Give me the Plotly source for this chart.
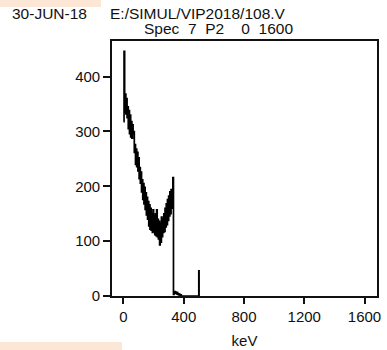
import plotly.graph_objects as go

# Spectrum: 4 keV bins (lower edges, keV) and counts per bin
energy_kev = [
    0, 4, 8, 12, 16, 20, 24, 28, 32, 36, 40, 44, 48, 52, 56, 60, 64, 68, 72, 76,
    80, 84, 88, 92, 96, 100, 104, 108, 112, 116, 120, 124, 128, 132, 136, 140,
    144, 148, 152, 156, 160, 164, 168, 172, 176, 180, 184, 188, 192, 196, 200,
    204, 208, 212, 216, 220, 224, 228, 232, 236, 240, 244, 248, 252, 256, 260,
    264, 268, 272, 276, 280, 284, 288, 292, 296, 300, 304, 308, 312, 316, 320,
    324, 328, 332, 336, 340, 344, 348, 352, 356, 360, 364, 368, 372, 376, 380,
    384, 498, 500, 502,
]
counts = [
    318, 446, 335, 368, 332, 360, 325, 345, 305, 338, 296, 330, 290, 318, 288,
    312, 296, 300, 262, 276, 240, 268, 236, 262, 228, 252, 214, 234, 206, 226,
    190, 212, 176, 205, 168, 198, 158, 188, 148, 180, 140, 172, 128, 166, 122,
    160, 120, 150, 116, 157, 118, 146, 112, 150, 110, 157, 108, 140, 104, 136,
    93, 132, 98, 144, 108, 140, 116, 150, 118, 160, 126, 168, 130, 176, 138,
    182, 146, 190, 150, 194, 160, 190, 216, 3, 6, 8, 5, 7, 4, 6,
    3, 4, 2, 3, 1, 2, 0, 0, 46, 0,
]

x_ticks = [0, 400, 800, 1200, 1600]
y_ticks = [0, 100, 200, 300, 400]

header_date = "30-JUN-18"
header_file = "E:/SIMUL/VIP2018/108.V"
header_spec = "Spec\u00a0\u00a07\u00a0\u00a0P2\u00a0\u00a0\u00a0\u00a00\u00a0\u00a01600"
x_title = "keV"

FONT = "Liberation Sans, Arial, sans-serif"
INK = "#111111"
PEACH = "#fce6d6"

fig = go.Figure()
fig.add_trace(go.Scatter(
    x=energy_kev, y=counts, mode="lines",
    line=dict(color="black", width=1.7, shape="hv"),
    hoverinfo="skip", showlegend=False,
))

axis_common = dict(
    showline=True, linecolor=INK, linewidth=1.6, mirror=True,
    ticks="outside", tickcolor=INK, tickwidth=1.5,
    showgrid=False, zeroline=False, automargin=False,
    tickfont=dict(family=FONT, size=15, color=INK),
)

fig.update_layout(
    width=387, height=350,
    margin=dict(l=112, r=10, t=41, b=54, pad=0),
    paper_bgcolor="white", plot_bgcolor="white",
    font=dict(family=FONT, color=INK),
    xaxis=dict(range=[-76, 1683], tickvals=x_ticks, ticklen=6,
               title=dict(text=x_title, font=dict(family=FONT, size=15, color=INK),
                          standoff=12),
               **axis_common),
    yaxis=dict(range=[0, 465], tickvals=y_ticks, ticklen=7, **axis_common),
)

# Header lines above the plot frame
for text, px, py in [(header_date, 11, 13.5), (header_file, 109, 13.5), (header_spec, 143, 28.5)]:
    fig.add_annotation(
        text=text, xref="paper", yref="paper",
        x=(px - 112) / 265, y=(296 - py) / 255,
        xanchor="left", yanchor="middle", showarrow=False,
        font=dict(family=FONT, size=15.5, color=INK),
        borderpad=0,
    )

# Peach highlight bands at the page corners
for x0, x1, y0, y1 in [(0, 101, 0, 7), (0, 122, 342, 350)]:
    fig.add_shape(
        type="rect", xref="paper", yref="paper",
        x0=(x0 - 112) / 265, x1=(x1 - 112) / 265,
        y0=(296 - y1) / 255, y1=(296 - y0) / 255,
        fillcolor=PEACH, line=dict(width=0), layer="below",
    )

fig.write_html("out.html")
